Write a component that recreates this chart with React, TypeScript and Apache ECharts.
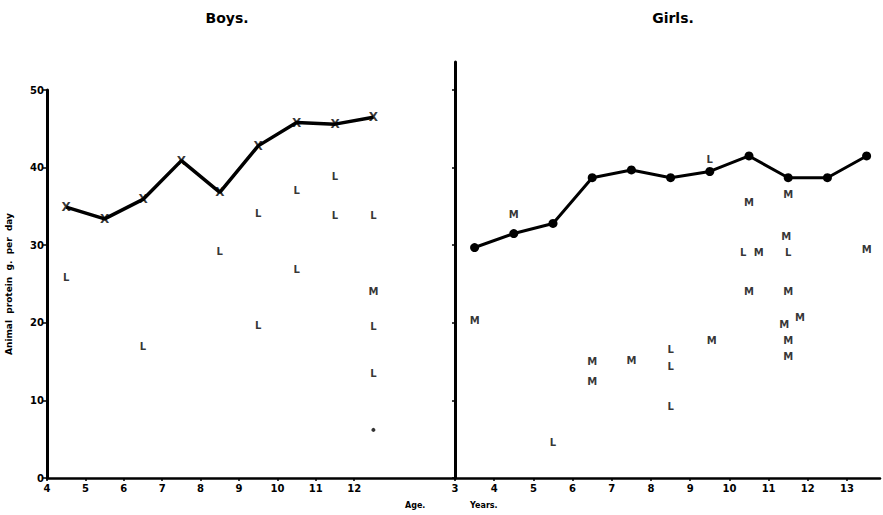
import React, { useEffect, useRef } from "react";
import * as echarts from "echarts";

// Boys (left panel): mean line marked with X
const boysAges = [4.5, 5.5, 6.5, 7.5, 8.5, 9.5, 10.5, 11.5, 12.5];
const boysMean = [34.9, 33.4, 35.9, 40.9, 36.8, 42.8, 45.8, 45.6, 46.5];
const boysL: number[][] = [
  [4.5, 25.9], [8.5, 29.2], [9.5, 34.1], [10.5, 37.0], [10.5, 26.9],
  [11.5, 38.8], [11.5, 33.8], [12.5, 33.8], [6.5, 16.9], [9.5, 19.7],
  [12.5, 19.5], [12.5, 13.5],
];
const boysM: number[][] = [[12.5, 24.0]];
const boysDot: number[][] = [[12.5, 6.2]];

// Girls (right panel): mean line marked with dots
const girlsAges = [3.5, 4.5, 5.5, 6.5, 7.5, 8.5, 9.5, 10.5, 11.5, 12.5, 13.5];
const girlsMean = [29.7, 31.5, 32.8, 38.7, 39.7, 38.7, 39.5, 41.5, 38.7, 38.7, 41.5];
const girlsL: number[][] = [
  [9.5, 41.0], [10.35, 29.0], [11.5, 29.0], [5.5, 4.6], [8.5, 16.6],
  [8.5, 14.4], [8.5, 9.2],
];
const girlsM: number[][] = [
  [4.5, 34.0], [10.5, 35.5], [11.5, 36.5], [11.45, 31.1], [10.75, 29.0],
  [13.5, 29.4], [10.5, 24.0], [11.5, 24.0], [3.5, 20.3], [6.5, 15.0],
  [6.5, 12.4], [7.5, 15.2], [9.55, 17.7], [11.8, 20.7], [11.4, 19.8],
  [11.5, 17.7], [11.5, 15.7],
];

const leftTicks = [4, 5, 6, 7, 8, 9, 10, 11, 12];
const rightTicks = [3, 4, 5, 6, 7, 8, 9, 10, 11, 12, 13];
const yTicks = [0, 10, 20, 30, 40, 50];

const FONT = "DejaVu Sans";

export default function App() {
  const ref = useRef<HTMLDivElement>(null);
  useEffect(() => {
    const chart = echarts.init(ref.current!, null, { renderer: "svg" });
    const letter = (txt: string, data: number[][], xi: number, size = 10) => ({
      type: "scatter",
      xAxisIndex: xi,
      yAxisIndex: xi,
      data,
      symbol: "circle",
      symbolSize: 1,
      itemStyle: { color: "rgba(0,0,0,0)" },
      label: {
        show: true,
        position: "inside",
        formatter: txt,
        color: "#000",
        textBorderWidth: 0,
        fontFamily: FONT,
        fontWeight: "bold",
        fontSize: size,
      },
      z: 5,
    });
    const xAxisBase = {
      type: "value",
      axisLine: { show: true, lineStyle: { color: "#000", width: 2.5 } },
      splitLine: { show: false },
      axisTick: { show: true, length: 3, lineStyle: { color: "#000", width: 1.5 } },
    };
    chart.setOption({
      animation: false,
      backgroundColor: "#fff",
      title: [
        { text: "Boys.", left: 222, top: 6, textAlign: "center",
          textStyle: { fontFamily: FONT, fontSize: 14, fontWeight: "bold", color: "#000" } },
        { text: "Girls.", left: 668, top: 6, textAlign: "center",
          textStyle: { fontFamily: FONT, fontSize: 14, fontWeight: "bold", color: "#000" } },
      ],
      grid: [
        { left: 47, top: 90, width: 408, height: 388 },
        { left: 455, top: 62, width: 425, height: 416 },
      ],
      xAxis: [
        {
          ...xAxisBase,
          gridIndex: 0,
          min: 4,
          max: 4 + 408 / 38.4,
          axisTick: { ...xAxisBase.axisTick, customValues: leftTicks },
          axisLabel: {
            customValues: leftTicks,
            color: "#000", fontFamily: FONT, fontWeight: "bold", fontSize: 10, margin: 5,
          },
        },
        {
          ...xAxisBase,
          gridIndex: 1,
          min: 3,
          max: 3 + 425 / 39.2,
          axisTick: { ...xAxisBase.axisTick, customValues: rightTicks },
          axisLabel: {
            customValues: rightTicks,
            color: "#000", fontFamily: FONT, fontWeight: "bold", fontSize: 10, margin: 5,
          },
        },
      ],
      yAxis: [
        {
          type: "value",
          gridIndex: 0,
          min: 0,
          max: 50,
          interval: 10,
          name: "Animal  protein  g.  per  day",
          nameLocation: "middle",
          nameGap: 34,
          nameTextStyle: { color: "#000", fontFamily: FONT, fontWeight: "bold", fontSize: 9 },
          axisLine: { show: true, lineStyle: { color: "#000", width: 3 } },
          axisTick: { show: true, length: 4, lineStyle: { color: "#000", width: 1.5 } },
          splitLine: { show: false },
          axisLabel: { color: "#000", fontFamily: FONT, fontWeight: "bold", fontSize: 10, margin: 3 },
        },
        {
          type: "value",
          gridIndex: 1,
          min: 0,
          max: 50 + 28 / 7.76,
          axisLine: { show: true, lineStyle: { color: "#000", width: 3 } },
          axisTick: { show: true, length: 3, customValues: yTicks, lineStyle: { color: "#000", width: 1.5 } },
          splitLine: { show: false },
          axisLabel: { show: false },
        },
      ],
      graphic: [
        { type: "text", left: 405, top: 501,
          style: { text: "Age.", fill: "#000", font: `bold 8px '${FONT}'` } },
        { type: "text", left: 470, top: 501,
          style: { text: "Years.", fill: "#000", font: `bold 8px '${FONT}'` } },
      ],
      series: [
        {
          type: "line",
          xAxisIndex: 0,
          yAxisIndex: 0,
          data: boysAges.map((a, i) => [a, boysMean[i]]),
          symbol: "none",
          lineStyle: { color: "#000", width: 3.5 },
          z: 3,
        },
        letter("X", boysAges.map((a, i) => [a, boysMean[i]]), 0, 12),
        letter("L", boysL, 0),
        letter("M", boysM, 0),
        {
          type: "scatter",
          xAxisIndex: 0,
          yAxisIndex: 0,
          data: boysDot,
          symbol: "circle",
          symbolSize: 4,
          itemStyle: { color: "#000" },
        },
        {
          type: "line",
          xAxisIndex: 1,
          yAxisIndex: 1,
          data: girlsAges.map((a, i) => [a, girlsMean[i]]),
          symbol: "circle",
          symbolSize: 9,
          itemStyle: { color: "#000" },
          lineStyle: { color: "#000", width: 3 },
          z: 3,
        },
        letter("L", girlsL, 1),
        letter("M", girlsM, 1),
      ],
    });
    return () => chart.dispose();
  }, []);
  return (
    <div
      ref={ref}
      style={{ position: "fixed", left: 0, top: 0, width: 883, height: 515 }}
    />
  );
}
